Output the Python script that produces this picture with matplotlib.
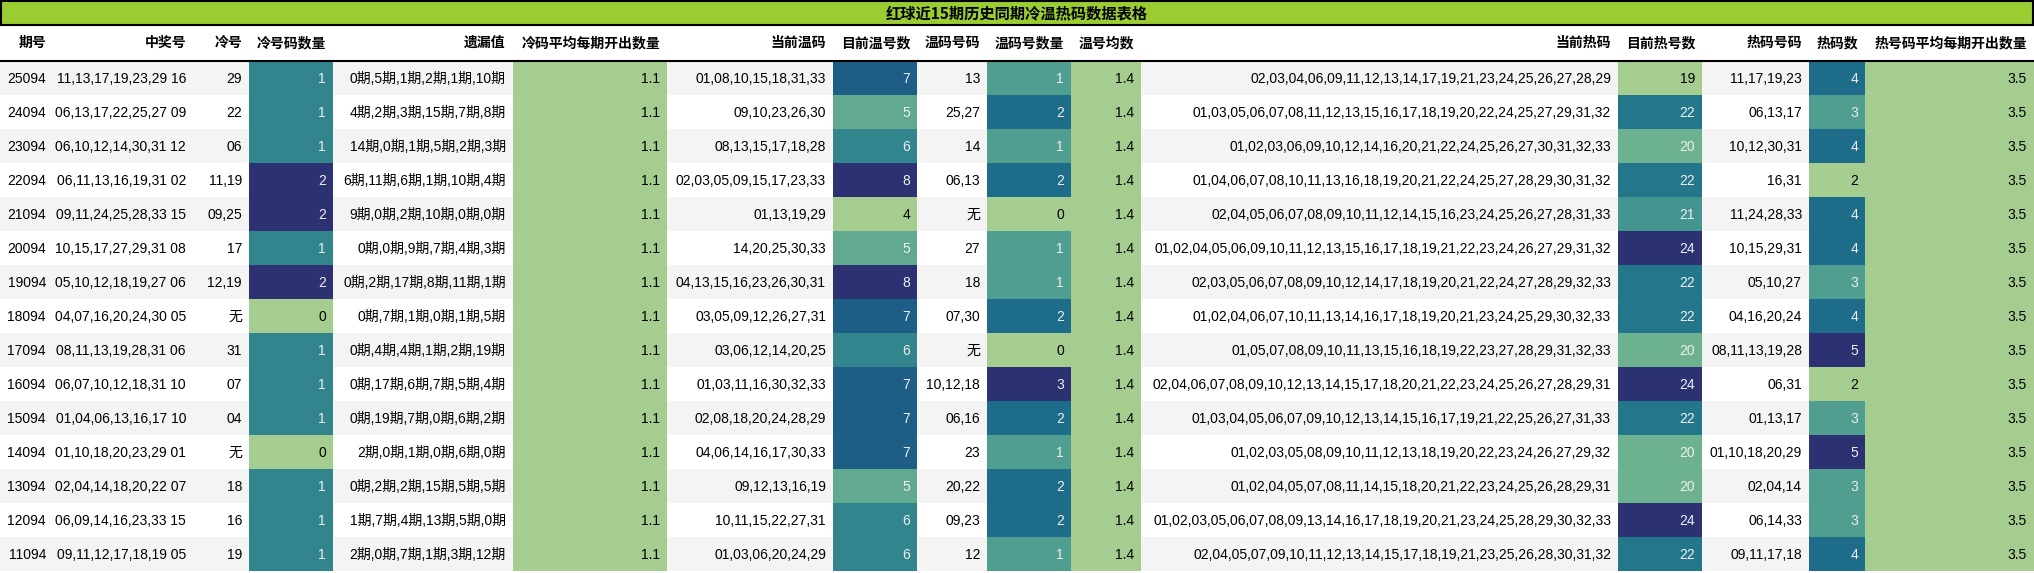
import matplotlib.pyplot as plt
import seaborn as sns
from matplotlib.patches import Rectangle
from matplotlib.colors import Normalize

title = "红球近15期历史同期冷温热码数据表格"
headers = ["期号", "中奖号", "冷号", "冷号码数量", "遗漏值", "冷码平均每期开出数量",
           "当前温码", "目前温号数", "温码号码", "温码号数量", "温号均数",
           "当前热码", "目前热号数", "热码号码", "热码数", "热号码平均每期开出数量"]

issues = ["25094", "24094", "23094", "22094", "21094", "20094", "19094", "18094",
          "17094", "16094", "15094", "14094", "13094", "12094", "11094"]
winning = ["11,13,17,19,23,29 16", "06,13,17,22,25,27 09", "06,10,12,14,30,31 12",
           "06,11,13,16,19,31 02", "09,11,24,25,28,33 15", "10,15,17,27,29,31 08",
           "05,10,12,18,19,27 06", "04,07,16,20,24,30 05", "08,11,13,19,28,31 06",
           "06,07,10,12,18,31 10", "01,04,06,13,16,17 10", "01,10,18,20,23,29 01",
           "02,04,14,18,20,22 07", "06,09,14,16,23,33 15", "09,11,12,17,18,19 05"]
cold = ["29", "22", "06", "11,19", "09,25", "17", "12,19", "无", "31", "07", "04", "无",
        "18", "16", "19"]
cold_n = [1, 1, 1, 2, 2, 1, 2, 0, 1, 1, 1, 0, 1, 1, 1]
miss = ["0期,5期,1期,2期,1期,10期", "4期,2期,3期,15期,7期,8期", "14期,0期,1期,5期,2期,3期",
        "6期,11期,6期,1期,10期,4期", "9期,0期,2期,10期,0期,0期", "0期,0期,9期,7期,4期,3期",
        "0期,2期,17期,8期,11期,1期", "0期,7期,1期,0期,1期,5期", "0期,4期,4期,1期,2期,19期",
        "0期,17期,6期,7期,5期,4期", "0期,19期,7期,0期,6期,2期", "2期,0期,1期,0期,6期,0期",
        "0期,2期,2期,15期,5期,5期", "1期,7期,4期,13期,5期,0期", "2期,0期,7期,1期,3期,12期"]
cold_avg = [1.1] * 15
warm_cur = ["01,08,10,15,18,31,33", "09,10,23,26,30", "08,13,15,17,18,28",
            "02,03,05,09,15,17,23,33", "01,13,19,29", "14,20,25,30,33",
            "04,13,15,16,23,26,30,31", "03,05,09,12,26,27,31", "03,06,12,14,20,25",
            "01,03,11,16,30,32,33", "02,08,18,20,24,28,29", "04,06,14,16,17,30,33",
            "09,12,13,16,19", "10,11,15,22,27,31", "01,03,06,20,24,29"]
warm_n = [7, 5, 6, 8, 4, 5, 8, 7, 6, 7, 7, 7, 5, 6, 6]
warm_code = ["13", "25,27", "14", "06,13", "无", "27", "18", "07,30", "无", "10,12,18",
             "06,16", "23", "20,22", "09,23", "12"]
warm_code_n = [1, 2, 1, 2, 0, 1, 1, 2, 0, 3, 2, 1, 2, 2, 1]
warm_avg = [1.4] * 15
hot_cur = [
    "02,03,04,06,09,11,12,13,14,17,19,21,23,24,25,26,27,28,29",
    "01,03,05,06,07,08,11,12,13,15,16,17,18,19,20,22,24,25,27,29,31,32",
    "01,02,03,06,09,10,12,14,16,20,21,22,24,25,26,27,30,31,32,33",
    "01,04,06,07,08,10,11,13,16,18,19,20,21,22,24,25,27,28,29,30,31,32",
    "02,04,05,06,07,08,09,10,11,12,14,15,16,23,24,25,26,27,28,31,33",
    "01,02,04,05,06,09,10,11,12,13,15,16,17,18,19,21,22,23,24,26,27,29,31,32",
    "02,03,05,06,07,08,09,10,12,14,17,18,19,20,21,22,24,27,28,29,32,33",
    "01,02,04,06,07,10,11,13,14,16,17,18,19,20,21,23,24,25,29,30,32,33",
    "01,05,07,08,09,10,11,13,15,16,18,19,22,23,27,28,29,31,32,33",
    "02,04,06,07,08,09,10,12,13,14,15,17,18,20,21,22,23,24,25,26,27,28,29,31",
    "01,03,04,05,06,07,09,10,12,13,14,15,16,17,19,21,22,25,26,27,31,33",
    "01,02,03,05,08,09,10,11,12,13,18,19,20,22,23,24,26,27,29,32",
    "01,02,04,05,07,08,11,14,15,18,20,21,22,23,24,25,26,28,29,31",
    "01,02,03,05,06,07,08,09,13,14,16,17,18,19,20,21,23,24,25,28,29,30,32,33",
    "02,04,05,07,09,10,11,12,13,14,15,17,18,19,21,23,25,26,28,30,31,32"]
hot_n = [19, 22, 20, 22, 21, 24, 22, 22, 20, 24, 22, 20, 20, 24, 22]
hot_code = ["11,17,19,23", "06,13,17", "10,12,30,31", "16,31", "11,24,28,33",
            "10,15,29,31", "05,10,27", "04,16,20,24", "08,11,13,19,28", "06,31",
            "01,13,17", "01,10,18,20,29", "02,04,14", "06,14,33", "09,11,17,18"]
hot_code_n = [4, 3, 4, 2, 4, 4, 3, 4, 5, 2, 3, 5, 3, 3, 4]
hot_avg = [3.5] * 15

columns = [issues, winning, cold, cold_n, miss, cold_avg, warm_cur, warm_n, warm_code,
           warm_code_n, warm_avg, hot_cur, hot_n, hot_code, hot_code_n, hot_avg]
col_edges = [0, 53, 193, 249, 333, 513, 667, 833, 917, 987, 1071, 1141, 1618, 1702,
             1809, 1865, 2034]
shaded = {3, 5, 7, 9, 10, 12, 14, 15}

W, H = 2034, 573
title_h, head_h, row_h = 25, 36, 34

cmap = sns.color_palette("crest", as_cmap=True)
cjk = ["Liberation Sans", "Noto Sans CJK SC", "DejaVu Sans"]
cjk_bold = ["Noto Sans CJK SC", "DejaVu Sans"]

fig = plt.figure(figsize=(W / 100, H / 100), dpi=100)
ax = fig.add_axes([0, 0, 1, 1])
ax.set_xlim(0, W)
ax.set_ylim(H, 0)
ax.axis("off")

# title bar
ax.add_patch(Rectangle((1, 1), W - 2, title_h - 1, facecolor="#9acd32", edgecolor="black", lw=1.5))
ax.text(W / 2, title_h / 2 + 1, title, ha="center", va="center", fontsize=11,
        fontweight="bold", family=cjk_bold)

# header
for j, h in enumerate(headers):
    ax.text(col_edges[j + 1] - 7, title_h + head_h / 2, h, ha="right", va="center",
            fontsize=10, fontweight="bold", family=cjk_bold)
ax.plot([0, W], [title_h + head_h, title_h + head_h], color="black", lw=1.5)

top = title_h + head_h
for i in range(len(issues)):
    y0 = top + i * row_h
    ax.add_patch(Rectangle((0, y0), W, row_h, facecolor="#f4f4f4" if i % 2 == 0 else "white",
                           lw=0))

for j, col in enumerate(columns):
    x0, x1 = col_edges[j], col_edges[j + 1]
    norm = None
    if j in shaded:
        lo, hi = min(col), max(col)
        norm = Normalize(lo, hi if hi > lo else lo + 1)
    for i, v in enumerate(col):
        y0 = top + i * row_h
        color = "black"
        if norm is not None:
            t = norm(v)
            ax.add_patch(Rectangle((x0, y0), x1 - x0, row_h, facecolor=cmap(t), lw=0))
            if t > 0:
                color = "#eeeeee"
        ax.text(x1 - 7, y0 + row_h / 2 + 1, str(v), ha="right", va="center",
                fontsize=10, color=color, family=cjk)

fig.savefig("out.png", dpi=100)
